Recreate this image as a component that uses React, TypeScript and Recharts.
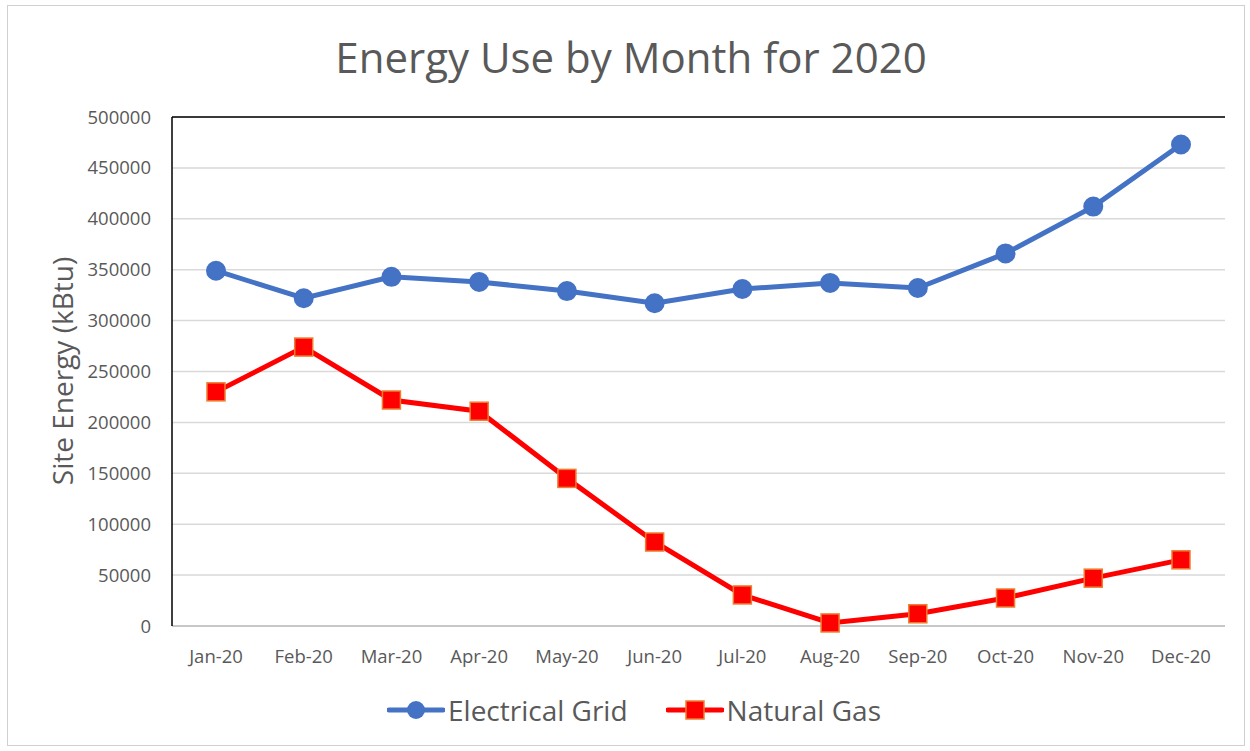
import React from 'react';
import {
  LineChart, Line, XAxis, YAxis, CartesianGrid, Legend, ReferenceLine,
} from 'recharts';

const months = ['Jan-20', 'Feb-20', 'Mar-20', 'Apr-20', 'May-20', 'Jun-20', 'Jul-20', 'Aug-20', 'Sep-20', 'Oct-20', 'Nov-20', 'Dec-20'];
const electricalGrid = [349000, 322000, 343000, 338000, 329000, 317000, 331000, 337000, 332000, 366000, 412000, 473000];
const naturalGas = [230000, 274000, 222000, 211000, 145000, 82500, 30500, 3000, 12000, 27500, 47000, 65000];
const yTicks = [0, 50000, 100000, 150000, 200000, 250000, 300000, 350000, 400000, 450000, 500000];

const data = months.map((m, i) => ({ month: m, grid: electricalGrid[i], gas: naturalGas[i] }));

const FONT = '"Open Sans", "Liberation Sans", sans-serif';
const TEXT = '#595959';
const BLUE = '#4472C4';
const RED = '#FF0000';
const ORANGE = '#ED7D31';

const SquareDot = (props: any) => {
  const { cx, cy, index } = props;
  if (cx == null || cy == null) return null;
  return <rect key={index} x={cx - 9} y={cy - 9} width={18} height={18} fill={RED} stroke={ORANGE} strokeWidth={1.5} />;
};

const LegendContent = () => (
  <div style={{ display: 'flex', justifyContent: 'center', alignItems: 'center', height: 40, paddingLeft: 18, fontFamily: FONT, fontSize: 28, color: TEXT }}>
    <svg width={58} height={24} style={{ marginRight: 3 }}>
      <line x1={2} y1={12} x2={56} y2={12} stroke={BLUE} strokeWidth={5} strokeLinecap="round" />
      <circle cx={29} cy={12} r={9} fill={BLUE} />
    </svg>
    <span style={{ marginRight: 38 }}>Electrical Grid</span>
    <svg width={58} height={24} style={{ marginRight: 3 }}>
      <line x1={2} y1={12} x2={56} y2={12} stroke={RED} strokeWidth={5} strokeLinecap="round" />
      <rect x={20} y={3} width={18} height={18} fill={RED} stroke={ORANGE} strokeWidth={1.5} />
    </svg>
    <span>Natural Gas</span>
  </div>
);

const YLabel = () => (
  <text x={62} y={371} transform="rotate(-90 62 371)" textAnchor="middle" dominantBaseline="central"
    style={{ fontFamily: FONT, fontSize: 28, fill: TEXT }}>
    Site Energy (kBtu)
  </text>
);

export default function App() {
  return (
    <div style={{ position: 'fixed', left: 0, top: 0, width: 1250, height: 751, overflow: 'hidden', background: '#fff' }}>
      <div style={{ position: 'absolute', left: 12, top: 28, width: 1238, textAlign: 'center', fontFamily: FONT, fontSize: 42, color: TEXT }}>
        Energy Use by Month for 2020
      </div>
      <div style={{ position: 'absolute', left: 0, top: 0 }}>
        <LineChart width={1250} height={751} data={data} margin={{ top: 117, right: 25, left: 0, bottom: 21 }}>
          <CartesianGrid vertical={false} stroke="#d9d9d9" strokeWidth={1.5} yAxisId="l" />
          <XAxis
            dataKey="month"
            padding={{ left: 44, right: 44 }}
            height={64}
            tickLine={false}
            tickSize={0}
            tickMargin={24}
            axisLine={{ stroke: '#bfbfbf', strokeWidth: 1.5 }}
            tick={{ fill: TEXT, fontSize: 18.5, fontFamily: FONT }}
          />
          <YAxis
            yAxisId="l"
            domain={[0, 500000]}
            ticks={yTicks}
            width={172}
            tickLine={false}
            tickSize={0}
            tickMargin={21}
            axisLine={{ stroke: '#000', strokeWidth: 1.5 }}
            tick={{ fill: TEXT, fontSize: 18.5, fontFamily: FONT }}
            label={<YLabel />}
          />
          <YAxis
            yAxisId="r"
            orientation="right"
            domain={[0, 500000]}
            width={0}
            tick={false}
            tickLine={false}
            axisLine={{ stroke: '#000', strokeWidth: 1.5 }}
          />
          <ReferenceLine yAxisId="l" y={500000} stroke="#000" strokeWidth={1.5} />
          <Legend verticalAlign="bottom" content={<LegendContent />} wrapperStyle={{ left: 0, width: 1250 }} />
          <Line
            yAxisId="l"
            dataKey="grid"
            name="Electrical Grid"
            stroke={BLUE}
            strokeWidth={5}
            dot={{ r: 9, fill: BLUE, stroke: BLUE, strokeWidth: 2 }}
            activeDot={false}
            isAnimationActive={false}
          />
          <Line
            yAxisId="l"
            dataKey="gas"
            name="Natural Gas"
            stroke={RED}
            strokeWidth={5}
            dot={<SquareDot />}
            activeDot={false}
            isAnimationActive={false}
          />
        </LineChart>
      </div>
      <div style={{ position: 'absolute', left: 7, top: 5, width: 1238, height: 741, border: '1px solid #d0d0d0', boxSizing: 'border-box', pointerEvents: 'none', zIndex: 5 }} />
    </div>
  );
}
